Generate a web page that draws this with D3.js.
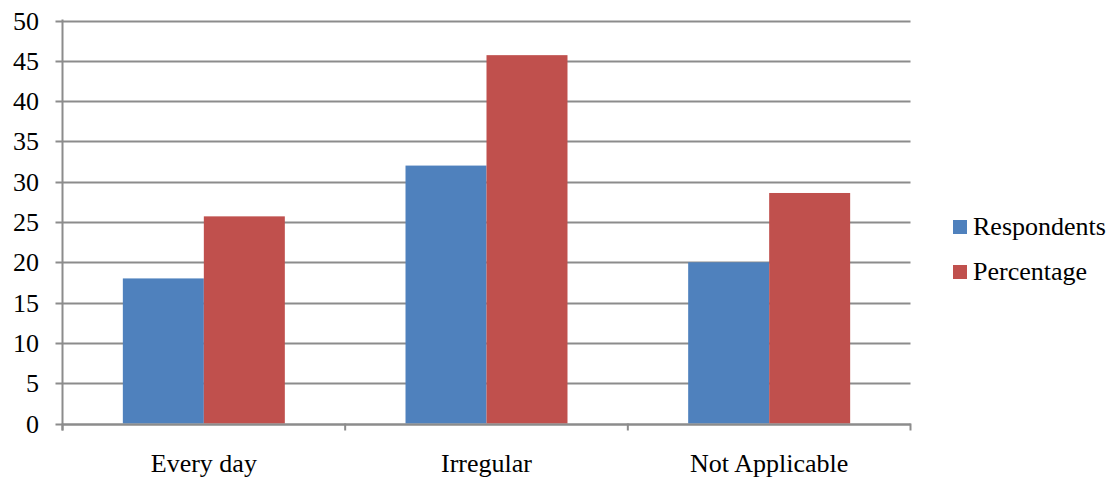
<!DOCTYPE html>
<html>
<head>
<meta charset="utf-8">
<script src="https://cdn.jsdelivr.net/npm/d3@7"></script>
<style>
  html, body { margin: 0; padding: 0; background: #fff; }
  svg { display: block; }
  text { font-family: "Liberation Serif", "Times New Roman", serif; fill: #000; }
</style>
</head>
<body>
<svg id="chart" width="1110" height="479"></svg>
<script>
// Data
const categories = ["Every day", "Irregular", "Not Applicable"];
const seriesNames = ["Respondents", "Percentage"];
const respondents = [18, 32, 20];
const percentage = [25.7, 45.7, 28.6];
const yTicks = [0, 5, 10, 15, 20, 25, 30, 35, 40, 45, 50];
const seriesColors = ["#4F81BD", "#C0504D"];

const svg = d3.select("#chart");
const plot = { left: 62.5, right: 910.5, top: 20.5, bottom: 423.5 };
const gridColor = "#8c8c8c";

const x = d3.scaleBand().domain(categories).range([plot.left, plot.right]).paddingInner(0).paddingOuter(0);
const inner = d3.scaleBand().domain(seriesNames).range([0, x.bandwidth()]).paddingInner(0).paddingOuter(0.745);
const y = d3.scaleLinear().domain([0, 50]).range([plot.bottom, plot.top]);

// Horizontal gridlines with short outward ticks
svg.append("g").selectAll("line").data(yTicks).join("line")
  .attr("x1", plot.left - 7).attr("x2", plot.right)
  .attr("y1", d => Math.round(y(d)) + 0.5).attr("y2", d => Math.round(y(d)) + 0.5)
  .attr("stroke", gridColor).attr("stroke-width", 2);

// Bars
const rows = categories.map((c, i) => ({ cat: c, vals: [respondents[i], percentage[i]] }));
const groups = svg.append("g").selectAll("g").data(rows).join("g")
  .attr("transform", d => `translate(${x(d.cat)},0)`);
groups.selectAll("rect").data(d => d.vals.map((v, j) => ({ name: seriesNames[j], v, j })))
  .join("rect")
  .attr("x", d => inner(d.name))
  .attr("width", inner.bandwidth())
  .attr("y", d => y(d.v))
  .attr("height", d => y(0) - y(d.v))
  .attr("fill", d => seriesColors[d.j]);

// Axes lines
svg.append("line").attr("x1", plot.left).attr("x2", plot.left)
  .attr("y1", plot.top - 1).attr("y2", plot.bottom + 7)
  .attr("stroke", gridColor).attr("stroke-width", 2);
svg.append("line").attr("x1", plot.left).attr("x2", plot.right)
  .attr("y1", Math.round(y(0)) + 0.5).attr("y2", Math.round(y(0)) + 0.5)
  .attr("stroke", gridColor).attr("stroke-width", 2);

// Category boundary ticks
const boundaries = categories.map(c => x(c) + x.bandwidth()).concat([plot.left]);
svg.append("g").selectAll("line").data(boundaries).join("line")
  .attr("x1", d => d).attr("x2", d => d)
  .attr("y1", y(0)).attr("y2", y(0) + 7)
  .attr("stroke", gridColor).attr("stroke-width", 2);

// Y tick labels
svg.append("g").selectAll("text").data(yTicks).join("text")
  .attr("x", 39).attr("y", d => y(d) + 9)
  .attr("text-anchor", "end").attr("font-size", 26)
  .text(d => d);

// Category labels
svg.append("g").selectAll("text").data(categories).join("text")
  .attr("x", d => x(d) + x.bandwidth() / 2).attr("y", 472)
  .attr("text-anchor", "middle").attr("font-size", 26)
  .text(d => d);

// Legend
const legend = svg.append("g").selectAll("g").data(seriesNames).join("g")
  .attr("transform", (d, i) => `translate(953,${220 + i * 45})`);
legend.append("rect").attr("width", 14).attr("height", 14)
  .attr("fill", (d, i) => seriesColors[i]);
legend.append("text").attr("x", 20).attr("y", 15)
  .attr("font-size", 26).text(d => d);
</script>
</body>
</html>
